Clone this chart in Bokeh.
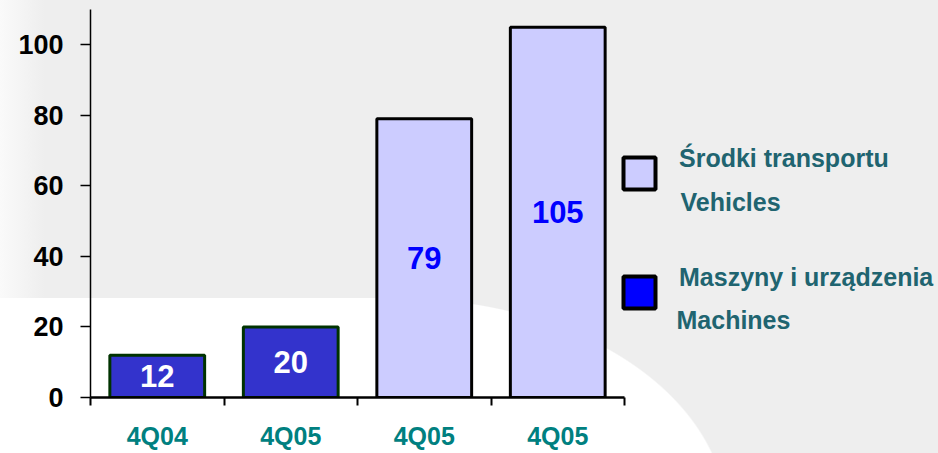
from bokeh.plotting import figure
from bokeh.models import Range1d, FixedTicker, ColumnDataSource, Legend, LegendItem, Label
from bokeh.core.properties import value
from bokeh.embed import file_html
from bokeh.resources import INLINE

# ---- data ----
categories = ["4Q04", "4Q05", "4Q05", "4Q05"]
values = [12, 20, 79, 105]
series = ["Machines", "Machines", "Vehicles", "Vehicles"]
y_ticks = [0, 20, 40, 60, 80, 100]
legend_pl = {"Vehicles": "Środki transportu", "Machines": "Maszyny i urządzenia"}
legend_en = {"Vehicles": "Vehicles", "Machines": "Machines"}
legend_order = ["Vehicles", "Machines"]

# ---- styles / layout ----
BAR_FILL = {"Machines": "#3333CC", "Vehicles": "#CCCCFF"}
BAR_LINE = {"Machines": "#003300", "Vehicles": "#000000"}
LABEL_COLOR = {"Machines": "#FFFFFF", "Vehicles": "#0000FF"}
LEG_FILL = {"Machines": "#0000FF", "Vehicles": "#CCCCFF"}
LEG_TEXT = "#206470"
FONT = "Liberation Sans"
W, H = 938, 453
LEFT, TOP, BOTTOM = 90, 9, 56
AXIS_LEN = 534          # pixel length of the category axis
FRAME_W = W - LEFT

x_end = len(categories) * FRAME_W / AXIS_LEN

p = figure(width=W, height=H, output_backend="svg", toolbar_location=None,
           x_range=Range1d(0, x_end), y_range=Range1d(0, 110),
           min_border_left=LEFT, min_border_right=0, min_border_top=TOP,
           min_border_bottom=BOTTOM)
p.background_fill_alpha = 0
p.border_fill_alpha = 0
p.outline_line_color = None
p.grid.grid_line_color = None
# slide-like background (gray with a white curved lower-left area)
p.styles = {"background":
            "radial-gradient(ellipse 328px 222px at 400px 520px, #FFFFFF 99.5%, rgba(255,255,255,0) 100%), "
            "linear-gradient(to bottom, rgba(255,255,255,0) 298px, #FFFFFF 298px) 0 0 / 400px 100% no-repeat, "
            "linear-gradient(to right, #FAFAFA 0px, #EEEEEE 45px)"}

xs = [i + 0.5 for i in range(len(categories))]

swatches = {}
for s in ["Machines", "Vehicles"]:
    idx = [i for i, ss in enumerate(series) if ss == s]
    src = ColumnDataSource(dict(x=[xs[i] for i in idx],
                                top=[values[i] for i in idx],
                                mid=[values[i] / 2 for i in idx],
                                lab=[str(values[i]) for i in idx]))
    p.vbar(x="x", top="top", width=0.71, bottom=0, source=src,
           fill_color=BAR_FILL[s], line_color=BAR_LINE[s], line_width=3)
    p.text(x="x", y="mid", text="lab", source=src, text_align="center",
           text_baseline="middle", text_color=LABEL_COLOR[s],
           text_font=value(FONT), text_font_size="31px", text_font_style="bold")
    # zero-size markers on the baseline, used only as legend swatches
    swatches[s] = p.scatter(x="x", y=0, size=0, marker="square", source=src,
                            fill_color=LEG_FILL[s], line_color="#000000", line_width=4)

# axes
yax = p.yaxis[0]
yax.ticker = FixedTicker(ticks=y_ticks)
yax.major_tick_out = 10
yax.major_tick_in = 0
yax.minor_tick_line_color = None
yax.axis_line_width = 1.5
yax.major_tick_line_width = 1.5
yax.major_label_text_font = FONT
yax.major_label_text_font_size = "27px"
yax.major_label_text_font_style = "bold"
yax.major_label_text_color = "#000000"
yax.major_label_standoff = 17

xax = p.xaxis[0]
xax.bounds = (0, len(categories))
xax.ticker = FixedTicker(ticks=xs, minor_ticks=list(range(len(categories) + 1)))
xax.major_label_overrides = {x: c for x, c in zip(xs, categories)}
xax.major_tick_line_color = None
xax.major_tick_out = 0
xax.major_tick_in = 0
xax.minor_tick_out = 8
xax.minor_tick_in = 0
xax.minor_tick_line_width = 2
xax.axis_line_width = 2.5
xax.major_label_text_font = FONT
xax.major_label_text_font_size = "25px"
xax.major_label_text_font_style = "bold"
xax.major_label_text_color = "#008080"
xax.major_label_standoff = 16

# legend: swatch + first (Polish) line; a blank second line keeps the swatch
# centred between the two text lines, the English line is added as a label
legend = Legend(items=[LegendItem(label=legend_pl[s] + "\n ", renderers=[swatches[s]])
                       for s in legend_order],
                location=(509, 65), orientation="vertical",
                glyph_width=80, glyph_height=80, label_standoff=0,
                spacing=39, padding=0, margin=0,
                label_text_font=FONT, label_text_font_size="25px",
                label_text_font_style="bold", label_text_color=LEG_TEXT,
                background_fill_alpha=0, border_line_color=None)
p.add_layout(legend, "center")

EN_POS = {"Vehicles": (680, 201), "Machines": (676, 319)}
for s in legend_order:
    ex, ey = EN_POS[s]
    p.add_layout(Label(x=ex, y=ey, x_units="canvas", y_units="canvas",
                       text=legend_en[s], text_font=FONT, text_font_size="25px",
                       text_font_style="bold", text_color=LEG_TEXT,
                       text_baseline="middle", text_align="left"))

open("out.html", "w").write(file_html(p, INLINE))
